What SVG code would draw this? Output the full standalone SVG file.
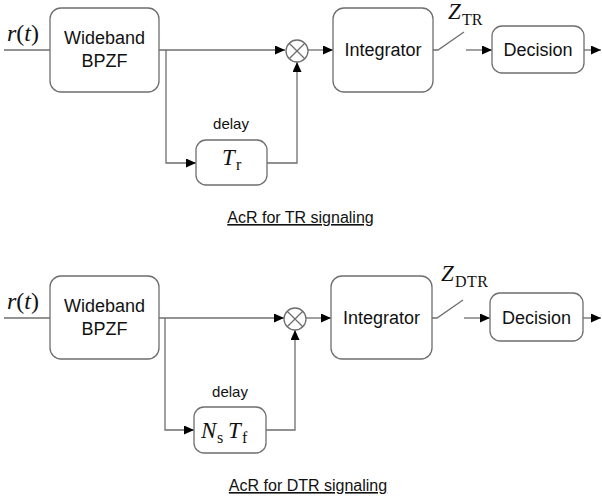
<svg xmlns="http://www.w3.org/2000/svg" width="602" height="502" viewBox="0 0 602 502">
  <defs>
    <marker id="arrow" markerUnits="userSpaceOnUse" markerWidth="10" markerHeight="10" refX="10" refY="4.5" orient="auto">
      <path d="M0,0 L10,4.5 L0,9 Z" fill="#000"/>
    </marker>
    <style>
      .box { fill: #fff; stroke: #6e6e6e; stroke-width: 1.3; }
      .wire { fill: none; stroke: #6e6e6e; stroke-width: 1.3; }
      .arr { marker-end: url(#arrow); }
      .lbl { font-family: "Liberation Sans", Arial, sans-serif; font-size: 18px; fill: #111; text-anchor: middle; }
      .small { font-family: "Liberation Sans", Arial, sans-serif; font-size: 15px; fill: #111; text-anchor: middle; }
      .cap { font-family: "Liberation Sans", Arial, sans-serif; font-size: 16px; fill: #111; text-anchor: middle; text-decoration: underline; }
      .math { font-family: "Liberation Serif", "Times New Roman", serif; fill: #111; }
      .it { font-style: italic; }
      .sub { font-size: 16px; }
    </style>
  </defs>

  <!-- ===== Upper receiver: TR ===== -->
  <g id="connectors-tr">
    <line class="wire" x1="4" y1="50" x2="50" y2="50"/>
    <line class="wire arr" x1="159" y1="50" x2="285" y2="50"/>
    <polyline class="wire arr" points="166,50 166,163 196,163"/>
    <polyline class="wire arr" points="267,163 297,163 297,62"/>
    <line class="wire arr" x1="308" y1="50" x2="333" y2="50"/>
    <!-- sampling switch -->
    <polyline class="wire" points="433,50 438,50 464,32"/>
    <line class="wire arr" x1="466" y1="50" x2="492" y2="50"/>
    <line class="wire arr" x1="584" y1="50" x2="601" y2="50"/>
  </g>

  <g id="input-tr">
    <text class="math" x="7" y="41" font-size="24"><tspan class="it">r</tspan>(<tspan class="it">t</tspan>)</text>
  </g>

  <g id="bpf-tr">
    <rect class="box" x="50" y="8" width="109" height="84" rx="11"/>
    <text class="lbl" x="104.5" y="44">Wideband</text>
    <text class="lbl" x="104.5" y="67">BPZF</text>
  </g>

  <g id="mixer-tr">
    <circle class="box" cx="297" cy="51" r="11"/>
    <path class="wire" d="M289.2,43.2 L304.8,58.8 M304.8,43.2 L289.2,58.8"/>
  </g>

  <g id="delay-tr">
    <text class="small" x="231" y="129">delay</text>
    <rect class="box" x="196" y="140" width="71" height="45" rx="10"/>
    <text class="math it" x="222" y="165" font-size="23">T</text>
    <text class="math sub" x="236" y="170">r</text>
  </g>

  <g id="integrator-tr">
    <rect class="box" x="333" y="8" width="100" height="84" rx="11"/>
    <text class="lbl" x="383" y="56">Integrator</text>
  </g>

  <g id="sample-tr">
    <text class="math it" x="448" y="19" font-size="23">Z</text>
    <text class="math sub" x="462" y="25">TR</text>
  </g>

  <g id="decision-tr">
    <rect class="box" x="492" y="26" width="92" height="47" rx="10"/>
    <text class="lbl" x="538" y="56">Decision</text>
  </g>

  <g id="caption-tr">
    <text class="cap" x="300.5" y="223">AcR for TR signaling</text>
  </g>

  <!-- ===== Lower receiver: DTR ===== -->
  <g id="connectors-dtr">
    <line class="wire" x1="4" y1="318" x2="50" y2="318"/>
    <line class="wire arr" x1="159" y1="318" x2="284" y2="318"/>
    <polyline class="wire arr" points="165,318 165,430 194,430"/>
    <polyline class="wire arr" points="266,430 295,430 295,330"/>
    <line class="wire arr" x1="306" y1="318" x2="331" y2="318"/>
    <!-- sampling switch -->
    <polyline class="wire" points="432,318 437,318 463,300"/>
    <line class="wire arr" x1="464" y1="318" x2="490" y2="318"/>
    <line class="wire arr" x1="583" y1="318" x2="601" y2="318"/>
  </g>

  <g id="input-dtr">
    <text class="math" x="7" y="309" font-size="24"><tspan class="it">r</tspan>(<tspan class="it">t</tspan>)</text>
  </g>

  <g id="bpf-dtr">
    <rect class="box" x="50" y="276" width="109" height="83" rx="11"/>
    <text class="lbl" x="104.5" y="312">Wideband</text>
    <text class="lbl" x="104.5" y="335">BPZF</text>
  </g>

  <g id="mixer-dtr">
    <circle class="box" cx="295" cy="319" r="11"/>
    <path class="wire" d="M287.2,311.2 L302.8,326.8 M302.8,311.2 L287.2,326.8"/>
  </g>

  <g id="delay-dtr">
    <text class="small" x="230" y="397">delay</text>
    <rect class="box" x="194" y="407" width="72" height="46" rx="10"/>
    <text class="math it" x="201" y="438" font-size="23">N</text>
    <text class="math sub" x="217" y="443">s</text>
    <text class="math it" x="228" y="438" font-size="23">T</text>
    <text class="math sub" x="242" y="443">f</text>
  </g>

  <g id="integrator-dtr">
    <rect class="box" x="331" y="276" width="101" height="83" rx="11"/>
    <text class="lbl" x="381.5" y="324">Integrator</text>
  </g>

  <g id="sample-dtr">
    <text class="math it" x="441" y="281" font-size="23">Z</text>
    <text class="math sub" x="455" y="287" letter-spacing="0.5">DTR</text>
  </g>

  <g id="decision-dtr">
    <rect class="box" x="490" y="293" width="93" height="48" rx="10"/>
    <text class="lbl" x="536.5" y="324">Decision</text>
  </g>

  <g id="caption-dtr">
    <text class="cap" x="308" y="491">AcR for DTR signaling</text>
  </g>
</svg>
